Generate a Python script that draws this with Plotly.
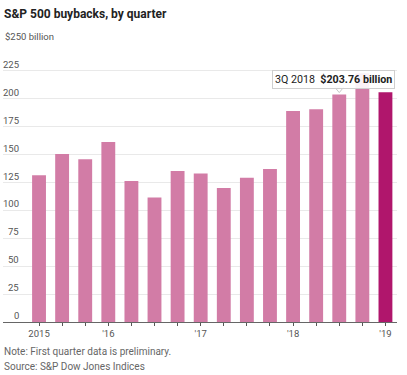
import plotly.graph_objects as go

# ---- data ----
quarters = ["2Q 2015", "3Q 2015", "4Q 2015", "1Q 2016", "2Q 2016", "3Q 2016", "4Q 2016",
            "1Q 2017", "2Q 2017", "3Q 2017", "4Q 2017", "1Q 2018", "2Q 2018", "3Q 2018",
            "4Q 2018", "1Q 2019"]
buybacks = [131.6, 150.6, 145.8, 161.4, 126.3, 111.6, 135.3, 133.1, 120.1, 129.2, 137.0,
            189.1, 190.6, 203.76, 223.0, 205.8]
x_tick_text = ["2015", "", "", "'16", "", "", "", "'17", "", "", "", "'18", "", "", "", "'19"]
y_ticks = [0, 25, 50, 75, 100, 125, 150, 175, 200, 225, 250]
y_tick_labels = ["0", "25", "50", "75", "100", "125", "150", "175", "200", "225", "$250 billion"]
highlight_quarter = "3Q 2018"
highlight_label = "$203.76 billion"

PINK = "#d27ca6"
DARK = "#b0166c"
FONT = "Roboto"

colors = [PINK] * (len(quarters) - 1) + [DARK]

fig = go.Figure()
fig.add_trace(go.Bar(x=quarters, y=buybacks, marker=dict(color=colors, line=dict(width=0)),
                     hoverinfo="skip"))

W, H = 407, 375
ml, mr, mt, mb = 3, 10, 43, 53
plot_w = W - ml - mr
plot_h = H - mt - mb


def px_to_paper(px_x, px_y):
    return (px_x - ml) / plot_w, 1 - (px_y - mt) / plot_h


annotations = []
for v, lab in zip(y_ticks, y_tick_labels):
    if lab.startswith("$"):
        annotations.append(dict(x=0, xref="paper", y=v, yref="y", text=lab, showarrow=False,
                                xanchor="left", yanchor="bottom", yshift=-1,
                                font=dict(family=FONT, size=9.5, color="#555")))
    else:
        annotations.append(dict(x=(20.5 - ml) / plot_w, xref="paper", y=v, yref="y", text=lab,
                                showarrow=False, xanchor="right", yanchor="bottom", yshift=-1,
                                font=dict(family=FONT, size=9.5, color="#555")))

hi = quarters.index(highlight_quarter)
hv = buybacks[hi]
# tooltip box
annotations.append(dict(x=highlight_quarter, y=hv, xref="x", yref="y",
                        text=f"{highlight_quarter}  <b>{highlight_label}</b>",
                        showarrow=False, xanchor="center", yanchor="bottom", yshift=6, xshift=-6,
                        bgcolor="rgba(255,255,255,0.9)", bordercolor="#cfcfcf", borderwidth=1,
                        borderpad=2, font=dict(family=FONT, size=10.7, color="#222")))

# caret under tooltip (pixel-sized path anchored on the highlighted bar top)
shapes = [dict(type="path", xref="x", yref="y", xsizemode="pixel", ysizemode="pixel",
               xanchor=highlight_quarter, yanchor=hv,
               path="M -4.5,7.5 L 0,2 L 4.5,7.5 Z",
               fillcolor="white", line=dict(color="#c8c8c8", width=1), layer="above")]

# title and notes (positions in pixels)
for text, py, size, color in [("<b>S&P 500 buybacks, by quarter</b>", 14, 12, "#222"),
                              ("Note: First quarter data is preliminary.", 351, 10, "#666"),
                              ("Source: S&P Dow Jones Indices", 366, 10, "#666")]:
    ax, ay = px_to_paper(2, py)
    annotations.append(dict(x=ax, y=ay, xref="paper", yref="paper", text=text,
                            showarrow=False, xanchor="left", yanchor="middle",
                            font=dict(family=FONT, size=size, color=color)))

fig.update_layout(
    width=W, height=H,
    margin=dict(l=ml, r=mr, t=mt, b=mb),
    paper_bgcolor="white", plot_bgcolor="white",
    bargap=0.4,
    showlegend=False,
    annotations=annotations,
    shapes=shapes,
    xaxis=dict(type="category", range=[-1.56, 15.5], tickvals=quarters, ticktext=x_tick_text,
               ticks="outside", ticklen=3, tickcolor="#555", tickwidth=1,
               showline=True, linecolor="#666", linewidth=1, showgrid=False,
               tickfont=dict(family=FONT, size=9.5, color="#555"), fixedrange=True),
    yaxis=dict(range=[0, 250], tickvals=y_ticks, showticklabels=False, showgrid=True,
               gridcolor="#e9e9e9", gridwidth=1, zeroline=False, showline=False, fixedrange=True),
)

fig.write_html("out.html", config={"displayModeBar": False},
               post_script="document.body.style.margin='0';document.body.style.overflow='hidden';")
